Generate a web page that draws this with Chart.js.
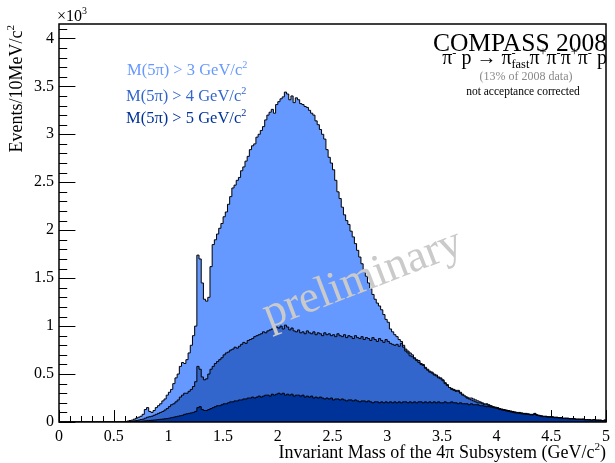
<!DOCTYPE html>
<html>
<head>
<meta charset="utf-8">
<script src="https://cdn.jsdelivr.net/npm/chart.js@4.4.1/dist/chart.umd.min.js"></script>
<style>
  html, body { margin: 0; padding: 0; background: #ffffff; }
  canvas { display: block; }
</style>
</head>
<body>
<canvas id="chart" width="615" height="463"></canvas>
<script>
// Histogram binning: 20 MeV bins from 0.60 GeV up to 5.00 GeV (counts in units of 10^3 per 10 MeV)
const binStart = 0.60;
const binWidth = 0.02;

// M(5pi) > 3 GeV/c^2
const massAbove3 = [
  0.005,0.01,0.015,0.02,0.03,0.04,0.05,0.06,0.08,0.13,
  0.15,0.11,0.10,0.12,0.15,0.17,0.19,0.22,0.24,0.28,
  0.31,0.34,0.40,0.46,0.50,0.58,0.62,0.61,0.65,0.72,
  0.80,0.90,1.00,1.74,1.70,1.45,1.28,1.26,1.30,1.62,
  1.85,1.90,1.96,2.02,2.07,2.14,2.19,2.27,2.35,2.44,
  2.47,2.52,2.55,2.62,2.66,2.72,2.77,2.84,2.88,2.90,
  2.97,3.00,3.04,3.08,3.15,3.20,3.23,3.26,3.22,3.31,
  3.34,3.37,3.39,3.44,3.42,3.36,3.40,3.33,3.38,3.36,
  3.32,3.31,3.29,3.28,3.25,3.22,3.20,3.14,3.10,3.05,
  3.00,2.95,2.84,2.76,2.70,2.63,2.52,2.40,2.33,2.24,
  2.16,2.10,2.06,1.99,1.93,1.86,1.79,1.72,1.65,1.58,
  1.52,1.45,1.39,1.33,1.28,1.24,1.21,1.17,1.12,1.07,
  1.04,0.97,0.94,0.91,0.89,0.86,0.84,0.80,0.76,0.74,
  0.72,0.70,0.67,0.65,0.64,0.61,0.60,0.57,0.55,0.53,
  0.52,0.50,0.49,0.47,0.46,0.44,0.41,0.39,0.36,0.35,
  0.34,0.33,0.33,0.31,0.29,0.27,0.26,0.25,0.25,0.24,
  0.23,0.22,0.21,0.20,0.19,0.19,0.18,0.17,0.16,0.155,
  0.15,0.14,0.135,0.13,0.125,0.12,0.115,0.11,0.105,0.10,
  0.10,0.095,0.09,0.09,0.085,0.08,0.08,0.09,0.075,0.07,
  0.065,0.06,0.06,0.055,0.055,0.055,0.05,0.05,0.045,0.045,
  0.04,0.04,0.04,0.035,0.035,0.035,0.03,0.03,0.03,0.03,
  0.025,0.025,0.025,0.02,0.025,0.02,0.02,0.02,0.015,0.02
];

// M(5pi) > 4 GeV/c^2
const massAbove4 = [
  0.002,0.004,0.006,0.008,0.012,0.016,0.02,0.025,0.03,0.04,
  0.05,0.055,0.06,0.07,0.08,0.09,0.10,0.11,0.125,0.14,
  0.16,0.18,0.19,0.21,0.23,0.26,0.28,0.30,0.30,0.32,
  0.34,0.37,0.42,0.58,0.55,0.47,0.44,0.45,0.50,0.55,
  0.58,0.61,0.63,0.65,0.67,0.70,0.72,0.73,0.75,0.76,
  0.78,0.77,0.79,0.81,0.83,0.82,0.85,0.86,0.87,0.89,
  0.90,0.91,0.92,0.94,0.93,0.95,0.96,0.97,0.96,0.99,
  0.98,1.00,0.97,1.01,0.99,0.96,0.98,0.95,0.94,0.96,
  0.93,0.94,0.92,0.95,0.93,0.92,0.94,0.91,0.93,0.92,
  0.90,0.93,0.91,0.92,0.90,0.91,0.89,0.92,0.90,0.89,
  0.91,0.88,0.90,0.89,0.87,0.90,0.88,0.87,0.89,0.86,
  0.88,0.87,0.85,0.88,0.86,0.84,0.87,0.85,0.83,0.86,
  0.84,0.82,0.81,0.80,0.81,0.79,0.82,0.78,0.74,0.72,
  0.69,0.68,0.66,0.64,0.62,0.60,0.59,0.56,0.54,0.52,
  0.51,0.49,0.48,0.46,0.45,0.43,0.40,0.38,0.36,0.34,
  0.33,0.32,0.32,0.30,0.28,0.27,0.25,0.24,0.23,0.22,
  0.21,0.20,0.20,0.19,0.18,0.18,0.17,0.165,0.155,0.15,
  0.145,0.135,0.13,0.125,0.12,0.115,0.11,0.105,0.10,0.098,
  0.095,0.09,0.088,0.085,0.082,0.078,0.078,0.085,0.072,0.068,
  0.062,0.058,0.058,0.053,0.053,0.052,0.048,0.048,0.044,0.043,
  0.038,0.039,0.038,0.034,0.034,0.033,0.029,0.029,0.028,0.029,
  0.024,0.024,0.023,0.019,0.024,0.019,0.019,0.018,0.014,0.019
];

// M(5pi) > 5 GeV/c^2
const massAbove5 = [
  0.001,0.002,0.003,0.004,0.005,0.006,0.007,0.008,0.01,0.012,
  0.014,0.016,0.018,0.02,0.022,0.025,0.028,0.03,0.033,0.036,
  0.04,0.045,0.05,0.055,0.06,0.065,0.07,0.08,0.085,0.09,
  0.095,0.10,0.11,0.15,0.16,0.13,0.12,0.12,0.13,0.14,
  0.15,0.16,0.17,0.17,0.18,0.19,0.19,0.20,0.21,0.21,
  0.22,0.22,0.23,0.23,0.24,0.24,0.25,0.25,0.26,0.25,
  0.26,0.27,0.26,0.27,0.28,0.28,0.27,0.29,0.28,0.29,
  0.30,0.29,0.30,0.28,0.29,0.28,0.29,0.27,0.28,0.28,
  0.27,0.28,0.26,0.27,0.26,0.27,0.25,0.26,0.25,0.26,
  0.25,0.24,0.25,0.24,0.25,0.23,0.24,0.24,0.23,0.24,
  0.23,0.22,0.23,0.23,0.22,0.23,0.22,0.21,0.22,0.22,
  0.21,0.22,0.21,0.20,0.21,0.21,0.20,0.21,0.20,0.21,
  0.20,0.21,0.20,0.21,0.20,0.21,0.20,0.21,0.21,0.20,
  0.21,0.20,0.21,0.20,0.21,0.21,0.20,0.21,0.20,0.21,
  0.20,0.21,0.20,0.21,0.20,0.20,0.21,0.20,0.20,0.21,
  0.20,0.20,0.19,0.20,0.19,0.19,0.19,0.18,0.19,0.18,
  0.18,0.18,0.17,0.17,0.165,0.16,0.16,0.155,0.15,0.145,
  0.14,0.13,0.125,0.12,0.115,0.11,0.105,0.10,0.095,0.092,
  0.09,0.085,0.083,0.08,0.078,0.074,0.074,0.08,0.068,0.064,
  0.058,0.055,0.055,0.05,0.05,0.049,0.045,0.045,0.041,0.041,
  0.036,0.036,0.035,0.032,0.032,0.031,0.027,0.027,0.026,0.027,
  0.022,0.022,0.021,0.017,0.022,0.017,0.017,0.016,0.013,0.017
];

// Axis ticks and labels
const xMajorTicks = [0, 0.5, 1, 1.5, 2, 2.5, 3, 3.5, 4, 4.5, 5];
const xTickLabels = ['0', '0.5', '1', '1.5', '2', '2.5', '3', '3.5', '4', '4.5', '5'];
const yMajorTicks = [0, 0.5, 1, 1.5, 2, 2.5, 3, 3.5, 4];
const yTickLabels = ['0', '0.5', '1', '1.5', '2', '2.5', '3', '3.5', '4'];
const xRange = [0, 5];
const yRange = [0, 4.15];
const minorStep = 0.1;

const FONT = '"Liberation Serif", "Times New Roman", serif';
const COLORS = { m3: '#6699ff', m4: '#3366cc', m5: '#003399' };

// Convert bin contents into step-histogram points (lower bin edges)
function histPoints(values) {
  const pts = [{ x: xRange[0], y: 0 }];
  values.forEach((v, i) => pts.push({ x: +(binStart + i * binWidth).toFixed(4), y: v }));
  pts.push({ x: xRange[1], y: 0 });
  return pts;
}

// Text with superscripts / subscripts
function richWidth(ctx, parts, size) {
  let w = 0;
  for (const p of parts) {
    if (p.t !== undefined) {
      ctx.font = size + 'px ' + FONT;
      w += ctx.measureText(p.t).width;
    } else {
      ctx.font = (size * 0.62) + 'px ' + FONT;
      w += Math.max(p.sup ? ctx.measureText(p.sup).width : 0, p.sub ? ctx.measureText(p.sub).width : 0);
    }
  }
  return w;
}
function drawRich(ctx, parts, x, y, size, align, color) {
  const w = richWidth(ctx, parts, size);
  let cx = align === 'right' ? x - w : (align === 'center' ? x - w / 2 : x);
  ctx.fillStyle = color;
  ctx.textAlign = 'left';
  ctx.textBaseline = 'alphabetic';
  for (const p of parts) {
    if (p.t !== undefined) {
      ctx.font = size + 'px ' + FONT;
      ctx.fillText(p.t, cx, y);
      cx += ctx.measureText(p.t).width;
    } else {
      ctx.font = (size * 0.62) + 'px ' + FONT;
      let adv = 0;
      if (p.sup) { ctx.fillText(p.sup, cx, y - size * 0.42); adv = Math.max(adv, ctx.measureText(p.sup).width); }
      if (p.sub) { ctx.fillText(p.sub, cx, y + size * 0.22); adv = Math.max(adv, ctx.measureText(p.sub).width); }
      cx += adv;
    }
  }
}

// Inward ROOT-style major/minor tick marks
const tickMarks = {
  id: 'tickMarks',
  beforeDatasetsDraw(chart) {
    const { ctx, chartArea: a, scales: { x, y } } = chart;
    const xLen = (a.bottom - a.top) * 0.03;
    const yLen = (a.right - a.left) * 0.03;
    ctx.save();
    ctx.strokeStyle = '#000';
    ctx.lineWidth = 1;
    ctx.beginPath();
    const nx = Math.round((x.max - x.min) / minorStep);
    for (let i = 0; i <= nx; i++) {
      const v = x.min + i * minorStep;
      const major = xMajorTicks.some(t => Math.abs(t - v) < 1e-6);
      const px = Math.round(x.getPixelForValue(v)) + 0.5;
      ctx.moveTo(px, a.bottom);
      ctx.lineTo(px, a.bottom - (major ? xLen : xLen / 2));
    }
    const ny = Math.floor((y.max - y.min) / minorStep + 1e-6);
    for (let i = 0; i <= ny; i++) {
      const v = y.min + i * minorStep;
      const major = yMajorTicks.some(t => Math.abs(t - v) < 1e-6);
      const py = Math.round(y.getPixelForValue(v)) + 0.5;
      ctx.moveTo(a.left, py);
      ctx.lineTo(a.left + (major ? yLen : yLen / 2), py);
    }
    ctx.stroke();
    ctx.restore();
  }
};

// Frame, titles, annotations
const decorations = {
  id: 'decorations',
  afterDatasetsDraw(chart) {
    const { ctx, chartArea: a } = chart;
    ctx.save();

    // watermark
    ctx.save();
    ctx.translate(269, 328);
    ctx.rotate(-21 * Math.PI / 180);
    ctx.font = '45px ' + FONT;
    ctx.fillStyle = '#cacaca';
    ctx.textAlign = 'left';
    ctx.textBaseline = 'alphabetic';
    ctx.fillText('preliminary', 0, 0);
    ctx.restore();

    // frame
    ctx.strokeStyle = '#000';
    ctx.lineWidth = 1.5;
    ctx.strokeRect(a.left, a.top, a.right - a.left, a.bottom - a.top);
    ctx.restore();
  },
  afterDraw(chart) {
    const { ctx, chartArea: a } = chart;
    ctx.save();

    // exponent of the y axis
    drawRich(ctx, [{ t: '×10' }, { sup: '3' }], a.left - 2, 21, 16, 'left', '#000');

    // y-axis title
    ctx.save();
    ctx.translate(22, 25);
    ctx.rotate(-Math.PI / 2);
    drawRich(ctx, [{ t: 'Events/10MeV/c' }, { sup: '2' }], 0, 0, 18, 'right', '#000');
    ctx.restore();

    // x-axis title
    drawRich(ctx, [{ t: 'Invariant Mass of the 4π Subsystem (GeV/c' }, { sup: '2' }, { t: ')' }], a.right, 458, 18, 'right', '#000');

    // selection labels
    drawRich(ctx, [{ t: 'M(5π) > 3 GeV/c' }, { sup: '2' }], 127, 75, 16.5, 'left', COLORS.m3);
    drawRich(ctx, [{ t: 'M(5π) > 4 GeV/c' }, { sup: '2' }], 126, 101, 16.5, 'left', COLORS.m4);
    drawRich(ctx, [{ t: 'M(5π) > 5 GeV/c' }, { sup: '2' }], 126, 123, 16.5, 'left', COLORS.m5);

    // experiment header
    drawRich(ctx, [{ t: 'COMPASS 2008' }], 607, 51, 25.5, 'right', '#000');
    drawRich(ctx, [
      { t: 'π' }, { sup: '-' }, { t: ' p → π' }, { sup: '-', sub: 'fast' },
      { t: 'π' }, { sup: '+' }, { t: 'π' }, { sup: '-' }, { t: 'π' }, { sup: '+' }, { t: 'π' }, { sup: '-' }, { t: ' p' }
    ], 607, 64, 20, 'right', '#000');
    drawRich(ctx, [{ t: '(13% of 2008 data)' }], 526, 80, 12, 'center', '#888888');
    drawRich(ctx, [{ t: 'not acceptance corrected' }], 523, 95, 11.5, 'center', '#000');

    ctx.restore();
  }
};

const series = [
  { label: 'M(5π) > 5 GeV/c²', values: massAbove5, color: COLORS.m5, order: 0 },
  { label: 'M(5π) > 4 GeV/c²', values: massAbove4, color: COLORS.m4, order: 1 },
  { label: 'M(5π) > 3 GeV/c²', values: massAbove3, color: COLORS.m3, order: 2 }
];

new Chart(document.getElementById('chart'), {
  type: 'line',
  data: {
    datasets: series.map(s => ({
      label: s.label,
      data: histPoints(s.values),
      order: s.order,
      stepped: 'before',
      fill: 'origin',
      backgroundColor: s.color,
      borderColor: '#000',
      borderWidth: 1,
      pointRadius: 0,
      tension: 0
    }))
  },
  options: {
    responsive: false,
    animation: false,
    devicePixelRatio: 1,
    layout: { padding: { top: 24, right: 4, left: 0, bottom: 0 } },
    plugins: { legend: { display: false }, tooltip: { enabled: false }, filler: { drawTime: 'beforeDatasetDraw' } },
    scales: {
      x: {
        type: 'linear',
        min: xRange[0],
        max: xRange[1],
        afterBuildTicks: s => { s.ticks = xMajorTicks.map(v => ({ value: v })); },
        afterFit: s => { s.height = 41; },
        grid: { display: false, drawTicks: false },
        border: { display: false },
        ticks: {
          autoSkip: false,
          maxRotation: 0,
          padding: 5,
          color: '#000',
          font: { family: FONT, size: 16 },
          callback: (v, i) => xTickLabels[i]
        }
      },
      y: {
        type: 'linear',
        min: yRange[0],
        max: yRange[1],
        afterBuildTicks: s => { s.ticks = yMajorTicks.map(v => ({ value: v })); },
        afterFit: s => { s.width = 59; },
        grid: { display: false, drawTicks: false },
        border: { display: false },
        ticks: {
          autoSkip: false,
          padding: 5,
          color: '#000',
          font: { family: FONT, size: 16 },
          callback: (v, i) => yTickLabels[i]
        }
      }
    }
  },
  plugins: [tickMarks, decorations]
});
</script>
</body>
</html>
